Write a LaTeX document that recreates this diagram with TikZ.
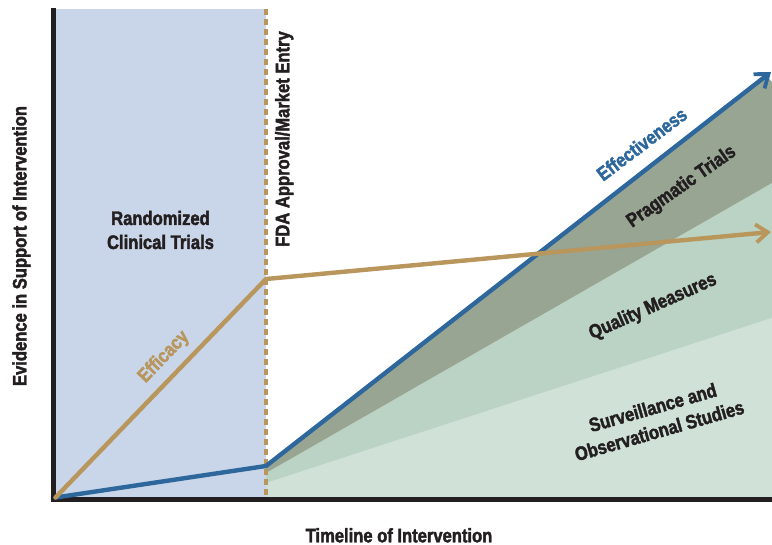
\documentclass[tikz,border=0pt]{standalone}
\usepackage{fontspec}
\setmainfont{Liberation Sans}[FakeStretch=0.85]
\newfontfamily\heavyfont{Liberation Sans}[UprightFont={* Bold}, FakeStretch=0.85, FakeBold=2]
\usetikzlibrary{arrows.meta}
\definecolor{rctblue}{HTML}{C9D5E8}
\definecolor{darkband}{HTML}{98A593}
\definecolor{midgreen}{HTML}{BAD3C4}
\definecolor{lightgreen}{HTML}{D0E2D8}
\definecolor{effblue}{HTML}{2D679C}
\definecolor{tan}{HTML}{B8965C}
\definecolor{ink}{HTML}{231F20}
\tikzset{
  lbl/.style={font=\fontsize{19.5}{24}\selectfont\heavyfont, text=ink, inner sep=0pt, align=center},
  axisline/.style={line width=4.5pt, draw=ink},
  trend/.style={line width=4.4pt, line cap=round, line join=round},
  barb/.style={-{Straight Barb[length=12pt,width=18pt,line width=3.8pt]}}
}
\begin{document}
\begin{tikzpicture}[x=1pt,y=1pt]
\useasboundingbox (0,-545) rectangle (772,0);
\fill[white] (0,-545) rectangle (772,0);
% coordinates
\coordinate (O) at (55.5,-497.5);
\coordinate (Fa) at (266,-279);
\coordinate (Fe) at (771,-232);
\coordinate (Ba) at (266,-466);
\coordinate (Be) at (771,-72);
\coordinate (Dtop) at (266,-9);
\coordinate (Dbot) at (266,-498);
% RCT region
\fill[rctblue] (53,-9) rectangle (266,-499);
% green bands
\fill[lightgreen] (266,-499) -- (266,-483) -- (772,-318) -- (772,-499) -- cycle;
\fill[midgreen] (266,-483) -- (266,-473) -- (772,-183) -- (772,-318) -- cycle;
\fill[darkband] (266,-473) -- (Ba) -- (766,-76) -- (772,-82) -- (772,-183) -- cycle;
% dashed FDA line
\draw[tan, line width=3.4pt, dash pattern=on 6.5pt off 3.5pt] (Dtop) -- (Dbot);
% axes
\draw[axisline] (53.5,-8) -- (53.5,-501.7);
\draw[axisline] (51.3,-499.5) -- (772,-499.5);
% effectiveness and efficacy
\draw[trend, effblue, barb] (O) -- (Ba) -- (Be);
\draw[trend, tan, barb] (O) -- (Fa) -- (Fe);
% labels
\node[lbl] (rct) at (160.5,-230) {Randomized\\Clinical Trials};
\node[lbl, rotate=90, anchor=base] (fda) at (289.3,-139) {FDA Approval/Market Entry};
\node[lbl, rotate=90, anchor=base] (ylab) at (26.5,-246) {Evidence in Support of Intervention};
\node[lbl, anchor=base] (xlab) at (399,-542.3) {Timeline of Intervention};
\node[lbl, text=tan, rotate=46] (efficacy) at (164,-357) {Efficacy};
\node[lbl, text=effblue, rotate=37] (effect) at (641.7,-144) {Effectiveness};
\node[lbl, rotate=35] (prag) at (681.7,-187) {Pragmatic Trials};
\node[lbl, rotate=24] (qual) at (653,-307) {Quality Measures};
\node[lbl, rotate=16] (surv) at (656,-419) {Surveillance and\\Observational Studies};
\end{tikzpicture}
\end{document}
